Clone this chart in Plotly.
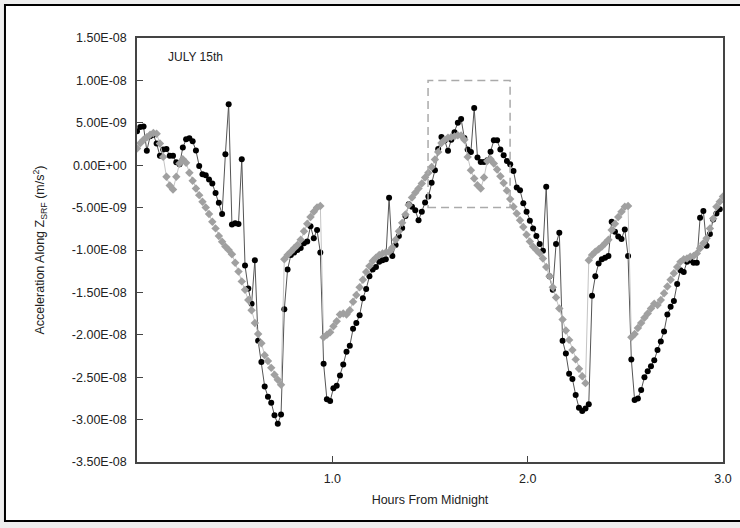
import numpy as np
import plotly.graph_objects as go

# measured acceleration along Z_SRF (units of 1e-9 m/s^2), one sample per step
measured = [4.0, 4.5, 4.55, 1.69, 3.4, 3.6, 2.55, 1.1, 1.84, 1.92,
            1.1, 1.1, 0.35, 0.12, 2.08, 3.06, 3.18, 2.82, 1.73, -0.08,
            -1.06, -1.18, -1.69, -2.16, -3.29, -4.43, -5.76, 1.29, 7.2, -7.0,
            -6.86, -6.94, 0.7, -11.84, -14.55, -16.35, -11.2, -20.7, -23.2, -26.1,
            -27.3, -28.0, -29.5, -30.5, -29.4, -17.0, -12.3, -10.6, -10.3, -10.0,
            -9.76, -9.2, -9.0, -7.2, -8.6, -7.65, -10.3, -23.4, -27.6, -27.8,
            -26.3, -26.0, -24.8, -23.5, -22.0, -21.3, -19.3, -18.6, -17.7, -15.7,
            -14.6, -13.1, -12.3, -12.0, -11.4, -11.2, -11.1, -3.84, -10.7, -9.4,
            -8.35, -7.4, -6.0, -4.6, -4.9, -5.3, -6.5, -5.5, -4.4, -3.7,
            -2.08, -0.6, 1.92, 3.33, 2.9, 1.69, 3.0, 3.9, 5.0, 5.45,
            3.2, 1.84, 1.57, 6.75, 0.9, 0.39, 0.39, 0.59, 1.6, 2.94,
            2.94, 1.84, 1.18, 0.51, 0.12, -0.67, -2.63, -2.94, -4.5, -5.5,
            -6.55, -7.45, -8.35, -9.3, -10.1, -2.55, -13.1, -14.7, -9.3, -7.96,
            -20.7, -22.2, -24.6, -25.2, -27.1, -28.6, -29.0, -28.7, -28.2, -15.4,
            -13.1, -11.6, -11.1, -10.9, -10.7, -6.67, -7.84, -8.4, -8.7, -7.57,
            -10.7, -22.9, -27.7, -27.5, -26.5, -25.0, -24.3, -23.7, -23.0, -21.8,
            -20.8, -19.6, -17.6, -16.7, -16.0, -14.0, -12.4, -12.6, -11.4, -11.2,
            -11.5, -11.5, -6.2, -5.4, -9.5, -8.1, -6.4, -5.7, -5.2]

# model curve (units of 1e-9 m/s^2)
model = [1.96, 2.6, 3.0, 3.3, 3.6, 3.8, 3.7, 2.55, 0.98, -1.37,
         -2.4, -2.86, -1.37, 0.2, 0.7, 0.3, -0.9, -1.84, -2.75, -3.53,
         -4.31, -4.98, -5.76, -6.67, -7.45, -8.35, -9.02, -9.6, -10.0, -10.5,
         -11.5, -12.55, -13.7, -14.7, -15.9, -17.1, -18.6, -19.9, -21.0, -22.4,
         -23.1, -23.9, -24.7, -25.3, -25.9, -11.1, -10.6, -10.2, -9.8, -9.4,
         -8.8, -7.8, -6.9, -6.1, -5.5, -5.0, -4.8, -20.3, -20.0, -19.7,
         -19.0, -18.4, -17.6, -17.5, -17.6, -17.1, -16.1, -15.3, -14.4, -13.5,
         -12.6, -11.9, -11.3, -10.9, -10.6, -10.4, -10.3, -10.2, -9.7, -8.8,
         -7.8, -6.8, -5.8, -4.7, -3.8, -3.25, -2.75, -2.16, -1.45, -0.9,
         -0.2, 0.67, 1.57, 2.63, 3.0, 3.25, 3.33, 3.4, 3.53, 3.5,
         3.0, 0.98, -0.59, -1.57, -2.35, -2.75, -1.45, 0.5, 0.7, 0.2,
         -0.5, -1.3, -2.1, -3.0, -4.0, -4.9, -5.7, -6.5, -7.3, -8.2,
         -9.0, -9.6, -10.0, -10.4, -11.0, -12.0, -13.1, -14.4, -15.6, -16.9,
         -18.2, -19.5, -20.6, -21.8, -22.9, -24.0, -24.9, -25.7, -11.2, -10.6,
         -10.2, -9.9, -9.6, -9.2, -8.8, -7.65, -6.9, -6.1, -5.5, -4.9,
         -4.8, -20.3, -19.9, -19.2, -18.6, -18.0, -17.5, -16.9, -16.35, -16.5,
         -15.9, -15.1, -14.3, -13.5, -12.75, -12.0, -11.4, -11.1, -11.0, -10.8,
         -10.7, -10.4, -9.8, -9.2, -8.6, -7.45, -6.3, -4.9, -4.3, -3.7]

# sample times (hours from midnight), 180 samples over the 3 hours
step = 3.0 / 179
t_meas = np.arange(len(measured)) * step
t_model = np.arange(len(model)) * step

y_ticks = [1.5e-8, 1.0e-8, 5.0e-9, 0.0, -5.0e-9, -1.0e-8, -1.5e-8,
           -2.0e-8, -2.5e-8, -3.0e-8, -3.5e-8]
y_labels = ["%.2E" % v for v in y_ticks]
x_ticks = [1.0, 2.0, 3.0]
x_labels = ["1.0", "2.0", "3.0"]

fig = go.Figure()
fig.add_trace(go.Scatter(x=t_meas, y=np.array(measured) * 1e-9, mode="lines+markers",
                         line=dict(color="#555555", width=1),
                         marker=dict(symbol="circle", size=6, color="black"),
                         showlegend=False))
fig.add_trace(go.Scatter(x=t_model, y=np.array(model) * 1e-9, mode="lines+markers",
                         line=dict(color="#c4c4c4", width=1),
                         marker=dict(symbol="diamond", size=6.5, color="#a0a0a0"),
                         showlegend=False))

# outer border of the chart area
fig.add_shape(type="rect", xref="paper", yref="paper",
              x0=-0.2253, x1=1.3635, y0=-0.1392, y1=1.0778,
              line=dict(color="black", width=2), fillcolor="white", layer="below")
# zoom box around the peak
fig.add_shape(type="rect", xref="x", yref="y",
              x0=1.49, x1=1.91, y0=-5.0e-9, y1=1.0e-8,
              line=dict(color="#aaaaaa", width=1.5, dash="8px,5px"))

fig.add_annotation(x=0.05, y=0.955, xref="paper", yref="paper", text="JULY 15th",
                   showarrow=False, xanchor="left", yanchor="middle",
                   font=dict(size=12, color="#222222"))

axis_font = dict(family="Liberation Sans, Arial, sans-serif", size=12.5, color="#222222")
fig.update_xaxes(range=[0.0, 3.0], tickvals=x_ticks, ticktext=x_labels,
                 ticks="inside", ticklen=6, tickcolor="#444444",
                 showline=True, linecolor="#444444", linewidth=1.5, mirror=True,
                 showgrid=False, zeroline=False, tickfont=axis_font,
                 ticklabelstandoff=4,
                 title=dict(text="Hours From Midnight", font=dict(size=12.5, color="#222222"),
                            standoff=10))
fig.update_yaxes(range=[-3.5e-8, 1.5e-8], tickvals=y_ticks, ticktext=y_labels,
                 ticks="inside", ticklen=6, tickcolor="#444444",
                 showline=True, linecolor="#444444", linewidth=1.5, mirror=True,
                 showgrid=False, zeroline=False, tickfont=axis_font,
                 ticklabelstandoff=6,
                 title=dict(text="Acceleration Along Z<sub>SRF</sub> (m/s<sup>2</sup>)",
                            font=dict(size=12.5, color="#222222"), standoff=24))

fig.update_layout(width=740, height=528,
                  margin=dict(l=137, r=17, t=38, b=66, autoexpand=False),
                  paper_bgcolor="#eeeeee", plot_bgcolor="white",
                  font=dict(family="Liberation Sans, Arial, sans-serif"))

# drop the page's default body margin so the figure sits at the window's corner
fig.write_html("out.html", config={"displayModeBar": False},
               post_script="document.body.style.margin='0';document.body.style.background='#eeeeee';")
